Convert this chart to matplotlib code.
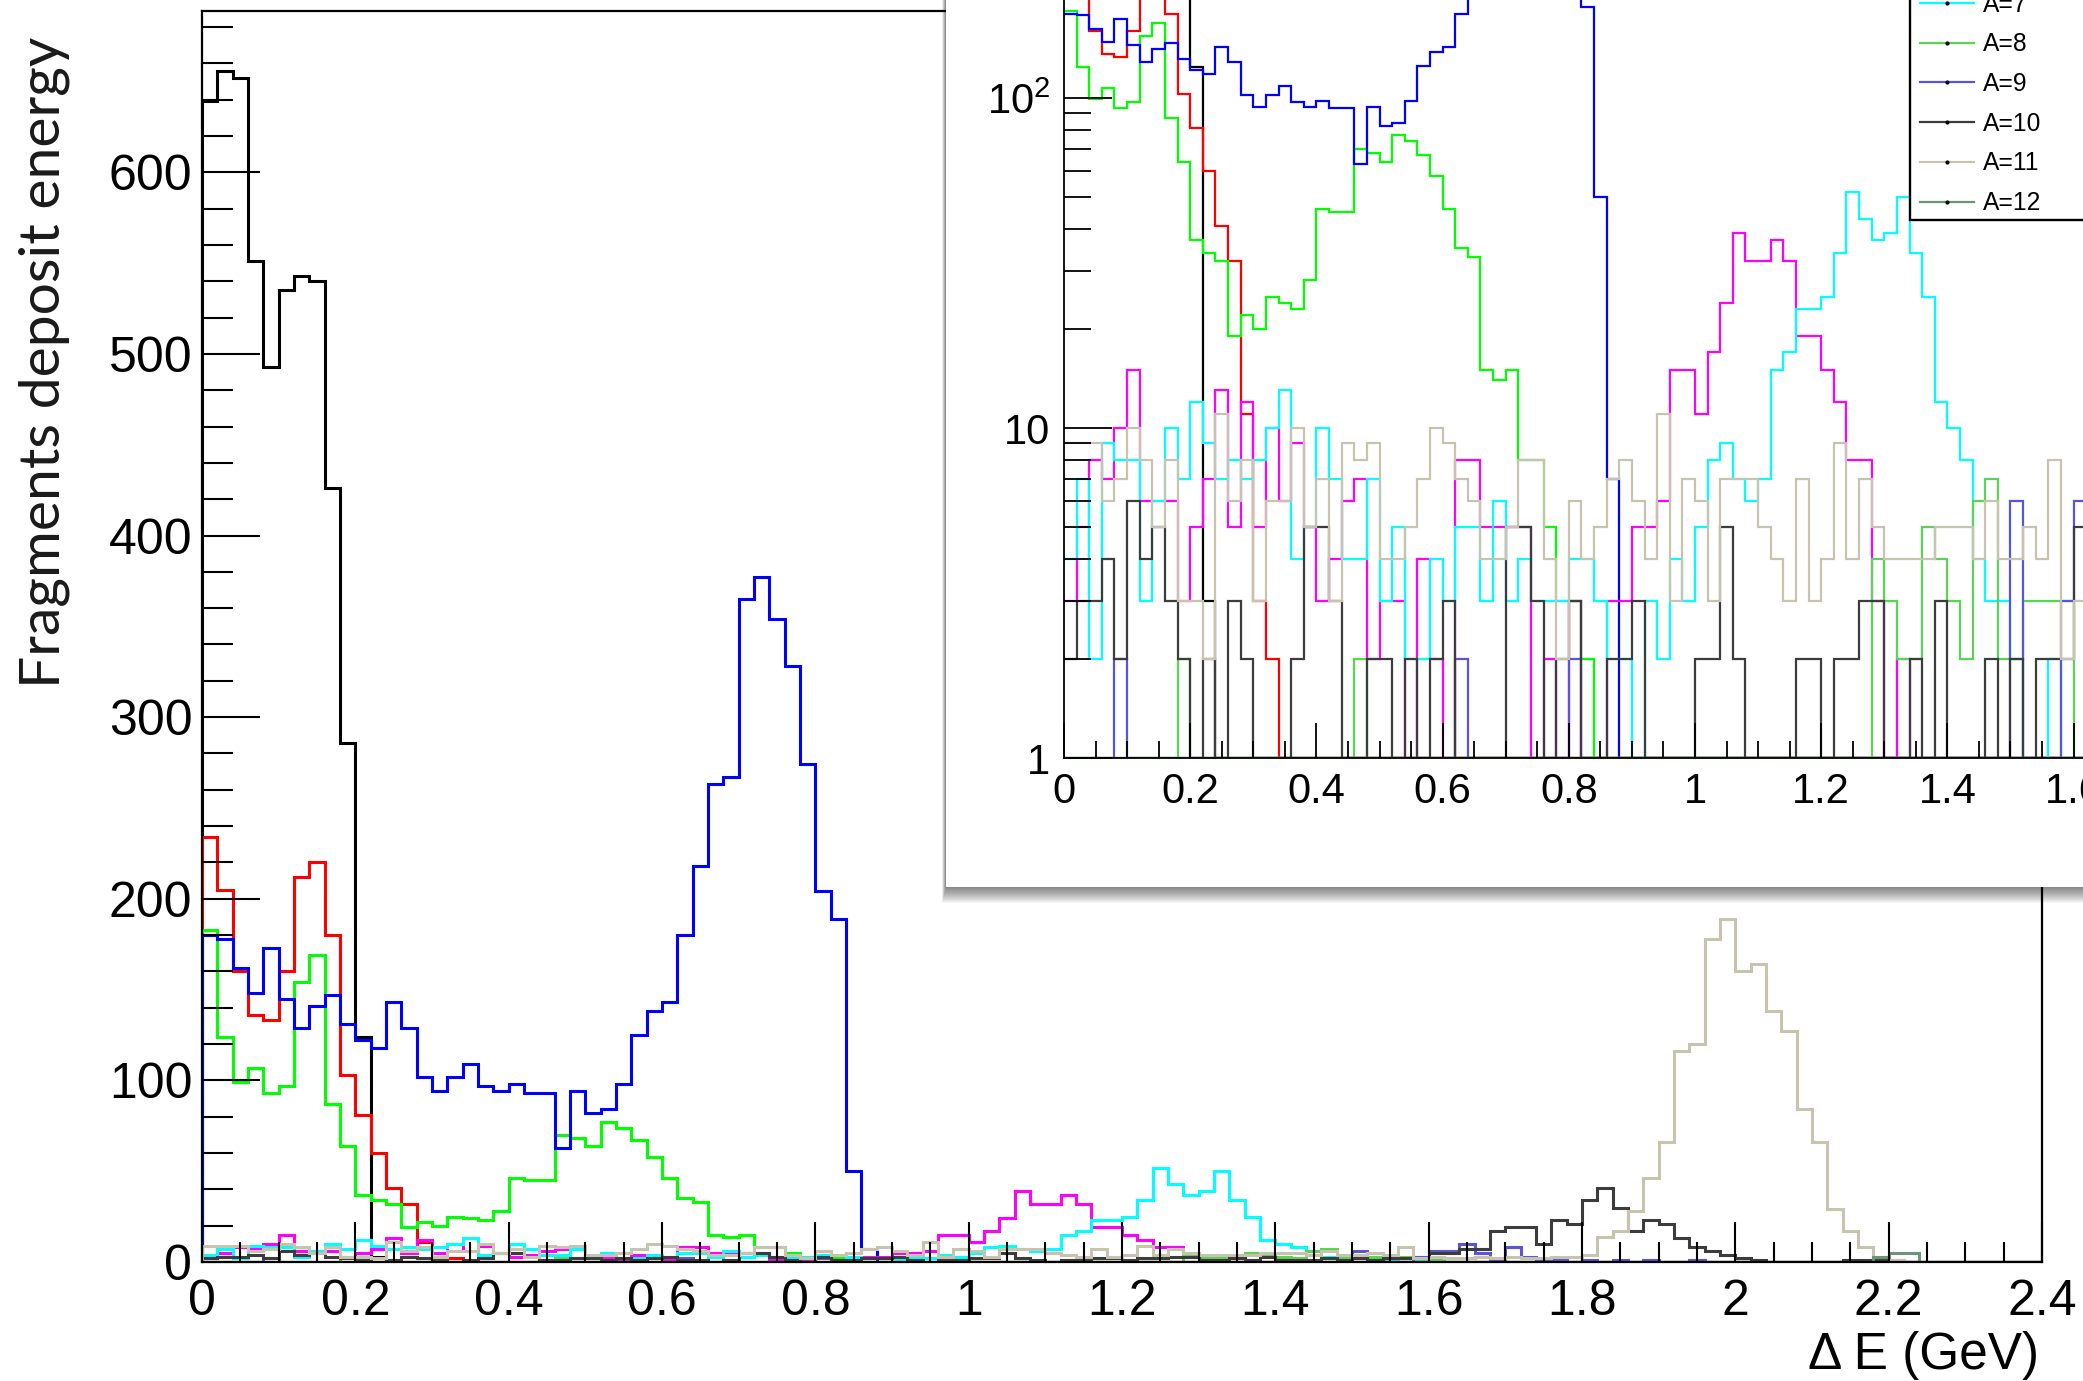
import numpy as np
import matplotlib.pyplot as plt
from matplotlib.lines import Line2D
from matplotlib.patches import Rectangle
from matplotlib.ticker import (MultipleLocator, FuncFormatter, FixedLocator,
                               FixedFormatter, LogLocator, NullFormatter)

plt.rcParams['font.family'] = ['Liberation Sans', 'DejaVu Sans']

# energy-deposit histograms, 120 bins of 0.02 GeV from 0 to 2.4 GeV
nbins = 120
edges = np.linspace(0, 2.4, nbins + 1)

a1 = [639, 656, 652, 551, 493, 535, 543, 540, 426, 286, 124, 3]
a2 = [234, 205, 160, 136, 133, 160, 212, 220, 180, 103, 81, 60, 41, 32, 11, 3, 2]
a3 = [183, 124, 99, 107, 93, 97, 154, 169, 87, 64,
      37, 34, 32, 19, 22, 20, 25, 24, 23, 28,
      46, 45, 45, 70, 68, 64, 77, 74, 67, 58,
      46, 35, 33, 15, 14, 15, 8, 8, 5, 3,
      3, 2]
a4 = [180, 178, 162, 148, 173, 145, 129, 141, 147, 131,
      122, 118, 143, 129, 102, 94, 102, 109, 97, 94,
      98, 93, 93, 63, 94, 82, 84, 98, 125, 138,
      143, 180, 218, 263, 267, 365, 377, 354, 328, 274,
      204, 189, 50, 7]
a5 = []
a6 = [3, 5, 8, 7, 10, 15, 6, 6, 6, 3,
      5, 7, 13, 5, 12, 5, 10, 6, 9, 5,
      3, 4, 6, 7, 2, 3, 3, 1, 4, 2,
      1, 8, 8, 5, 5, 5, 5, 1, 2, 1,
      3, 1, 1, 3, 3, 5, 5, 6, 15, 15,
      11, 17, 24, 39, 32, 32, 37, 32, 19, 19,
      15, 12, 8, 8, 3, 1, 2, 0, 1]
a7 = [4, 7, 2, 9, 8, 8, 3, 6, 10, 7,
      12, 9, 7, 8, 7, 8, 10, 13, 4, 5,
      10, 7, 4, 4, 7, 3, 5, 2, 2, 4,
      3, 5, 5, 3, 6, 3, 4, 3, 3, 3,
      4, 4, 3, 2, 2, 1, 3, 2, 4, 3,
      5, 8, 9, 7, 6, 7, 15, 17, 23, 23,
      25, 34, 52, 43, 37, 39, 50, 34, 25, 12,
      10, 8, 4, 3, 3, 2, 1, 1, 2, 1,
      1]
a8 = [0, 0, 0, 0, 0, 0, 0, 0, 0, 2,
      0, 0, 0, 0, 0, 0, 0, 0, 0, 0,
      0, 0, 0, 2, 0, 0, 0, 0, 0, 0,
      0, 0, 0, 0, 0, 0, 0, 0, 0, 0,
      0, 0, 0, 0, 0, 0, 0, 0, 0, 0,
      0, 0, 0, 0, 0, 0, 0, 0, 0, 0,
      0, 0, 0, 0, 4, 3, 2, 2, 5, 4,
      3, 2, 6, 7, 2, 2, 3, 3, 3, 3,
      1, 0, 0, 0, 1]
a9 = [0, 0, 0, 0, 2, 0, 0, 0, 0, 0,
      0, 0, 0, 0, 0, 0, 0, 0, 0, 0,
      0, 0, 0, 0, 0, 0, 0, 0, 0, 0,
      0, 2, 0, 0, 0, 0, 0, 0, 0, 0,
      2, 0, 0, 0, 0, 0, 0, 0, 0, 0,
      0, 0, 0, 0, 0, 0, 0, 0, 0, 0,
      0, 0, 0, 0, 0, 0, 0, 0, 0, 0,
      0, 0, 0, 0, 0, 6, 0, 0, 0, 3,
      6, 6, 10, 5, 1, 8, 3, 1, 1, 0,
      1, 0, 1, 0, 1, 0, 0, 1]
a10 = [2, 3, 3, 4, 2, 6, 4, 5, 3, 2,
       1, 2, 1, 3, 2, 1, 0, 1, 2, 5,
       5, 3, 1, 1, 2, 2, 1, 2, 1, 2,
       3, 1, 1, 0, 1, 5, 5, 3, 1, 2,
       3, 1, 1, 2, 2, 3, 1, 0, 1, 1,
       2, 2, 5, 2, 1, 0, 1, 1, 2, 2,
       1, 2, 2, 3, 3, 1, 1, 2, 1, 3,
       1, 1, 1, 2, 1, 2, 1, 2, 2, 2,
       5, 5, 7, 7, 17, 19, 19, 10, 23, 21,
       34, 41, 30, 17, 23, 21, 13, 8, 6, 4,
       2, 1, 0, 0, 0, 0, 0, 1, 1, 1, 1]
a11 = [9, 9, 9, 6, 7, 10, 8, 5, 8, 3,
       3, 2, 11, 6, 8, 3, 6, 6, 10, 5,
       7, 3, 9, 8, 9, 4, 4, 5, 7, 10,
       9, 7, 6, 4, 4, 5, 8, 8, 4, 2,
       6, 4, 5, 7, 8, 6, 4, 11, 3, 7,
       6, 3, 7, 7, 7, 5, 4, 3, 7, 3,
       4, 9, 4, 7, 5, 4, 4, 4, 4, 5,
       5, 5, 4, 6, 4, 4, 5, 4, 8, 2,
       3, 2, 2, 3, 2, 3, 2, 2, 3, 3,
       4, 14, 17, 28, 46, 66, 116, 120, 178, 189,
       160, 164, 138, 127, 84, 66, 29, 17, 8, 3, 1]
a12 = [0] * 109 + [3, 5, 5]

labels = ['A=%d' % a for a in range(1, 13)]
colors = ['#000000', '#ff0000', '#00ff00', '#0000ff', '#ffff00', '#ff00ff',
          '#00ffff', '#59d454', '#5954d9', '#3c3c3c', '#c8c3ae', '#6b9478']

series = [np.array(s + [0] * (nbins - len(s)), dtype=float)
          for s in (a1, a2, a3, a4, a5, a6, a7, a8, a9, a10, a11, a12)]

W, H = 2083, 1381
fig = plt.figure(figsize=(W / 100, H / 100), dpi=100)


def px_rect(x0, y0, x1, y1):
    # pixel box measured from the top-left corner -> figure fraction rect
    return [x0 / W, 1 - y1 / H, (x1 - x0) / W, (y1 - y0) / H]


gfmt = FuncFormatter(lambda v, p: '%g' % round(v, 3))

# ---- main linear histogram ----
ax = fig.add_axes(px_rect(202, 11, 2042, 1262), zorder=0)
for vals, col in zip(series, colors):
    ax.stairs(vals, edges, color=col, lw=2.2)
ax.set_xlim(0, 2.4)
ax.set_ylim(0, 1.05 * max(s.max() for s in series))
ax.xaxis.set_major_locator(MultipleLocator(0.2))
ax.xaxis.set_minor_locator(MultipleLocator(0.05))
ax.yaxis.set_major_locator(MultipleLocator(100))
ax.yaxis.set_minor_locator(MultipleLocator(20))
ax.xaxis.set_major_formatter(gfmt)
ax.tick_params(axis='x', which='major', direction='in', length=28.8, width=1.5,
               labelsize=36, pad=12)
ax.tick_params(axis='x', which='minor', direction='in', length=14.4, width=1.5)
ax.tick_params(axis='y', which='major', direction='in', length=41.8, width=1.5,
               labelsize=36, pad=7)
ax.tick_params(axis='y', which='minor', direction='in', length=22, width=1.5)
ax.set_axisbelow(False)
for sp in ax.spines.values():
    sp.set_linewidth(1.6)

fig.text(2039 / W, 1 - 1368.6 / H, 'Δ E (GeV)', ha='right', va='baseline',
         fontsize=37)
fig.text(44 / W, 1 - 362 / H, 'Fragments deposit energy', rotation=90,
         ha='center', va='center', fontsize=41, family=['Lato', 'DejaVu Sans'],
         color='#1a1a1a')

# ---- log-scale copy pasted on top, with its drop shadow ----
pl, pb = 946, 887
for k in range(1, 17):
    fig.add_artist(Rectangle((pl / W - k * 0.25 / W, 1 - (pb + k) / H),
                             1.2, 1.0, transform=fig.transFigure,
                             facecolor='black', edgecolor='none', alpha=0.035,
                             zorder=1))
fig.add_artist(Rectangle((pl / W, 1 - pb / H), 1.2, 1.0,
                         transform=fig.transFigure, facecolor='white',
                         edgecolor='none', zorder=1.5))

xu, dec = 631, 330
axin = fig.add_axes(px_rect(1064, 758 - 3.2 * dec, 1064 + 2.4 * xu, 758), zorder=2)
for vals, col in zip(series, colors):
    axin.stairs(np.maximum(vals, 1), edges, color=col, lw=1.6, baseline=None)
axin.set_yscale('log')
axin.set_xlim(0, 2.4)
axin.set_ylim(1, 10 ** 3.2)
axin.xaxis.set_major_locator(MultipleLocator(0.2))
axin.xaxis.set_minor_locator(MultipleLocator(0.05))
axin.xaxis.set_major_formatter(gfmt)
axin.yaxis.set_major_locator(FixedLocator([1, 10, 100, 1000]))
axin.yaxis.set_major_formatter(FixedFormatter(
    ['1', '10', r'$\mathregular{10^{2}}$', r'$\mathregular{10^{3}}$']))
axin.yaxis.set_minor_locator(LogLocator(base=10, subs=np.arange(2, 10)))
axin.yaxis.set_minor_formatter(NullFormatter())
axin.tick_params(axis='x', which='major', direction='in', length=25, width=1.3,
                 labelsize=30, pad=10)
axin.tick_params(axis='x', which='minor', direction='in', length=12, width=1.3)
axin.tick_params(axis='y', which='major', direction='in', length=34.6, width=1.3,
                 labelsize=30, pad=10)
axin.tick_params(axis='y', which='minor', direction='in', length=19.4, width=1.3)
axin.set_axisbelow(False)
for sp in axin.spines.values():
    sp.set_linewidth(1.3)

# legend box of the log plot
lx, lb = 1910, 220
fig.add_artist(Rectangle((lx / W, 1 - lb / H), 0.2, 1.0,
                         transform=fig.transFigure, facecolor='white',
                         edgecolor='black', lw=1.7, zorder=5))
handles = [Line2D([], [], color=c, lw=1.6, marker='o', markersize=2,
                  markerfacecolor='black', markeredgecolor='black')
           for c in colors]
leg = fig.legend(handles, labels, loc='lower left',
                 bbox_to_anchor=(lx / W, 1 - (lb + 5) / H),
                 bbox_transform=fig.transFigure, frameon=False, fontsize=17.7,
                 handlelength=2.2, handletextpad=0.35, labelspacing=0.64,
                 borderpad=0.4, borderaxespad=0, numpoints=1)
leg.set_zorder(6)

fig.savefig('out.png', dpi=100, facecolor='white')
